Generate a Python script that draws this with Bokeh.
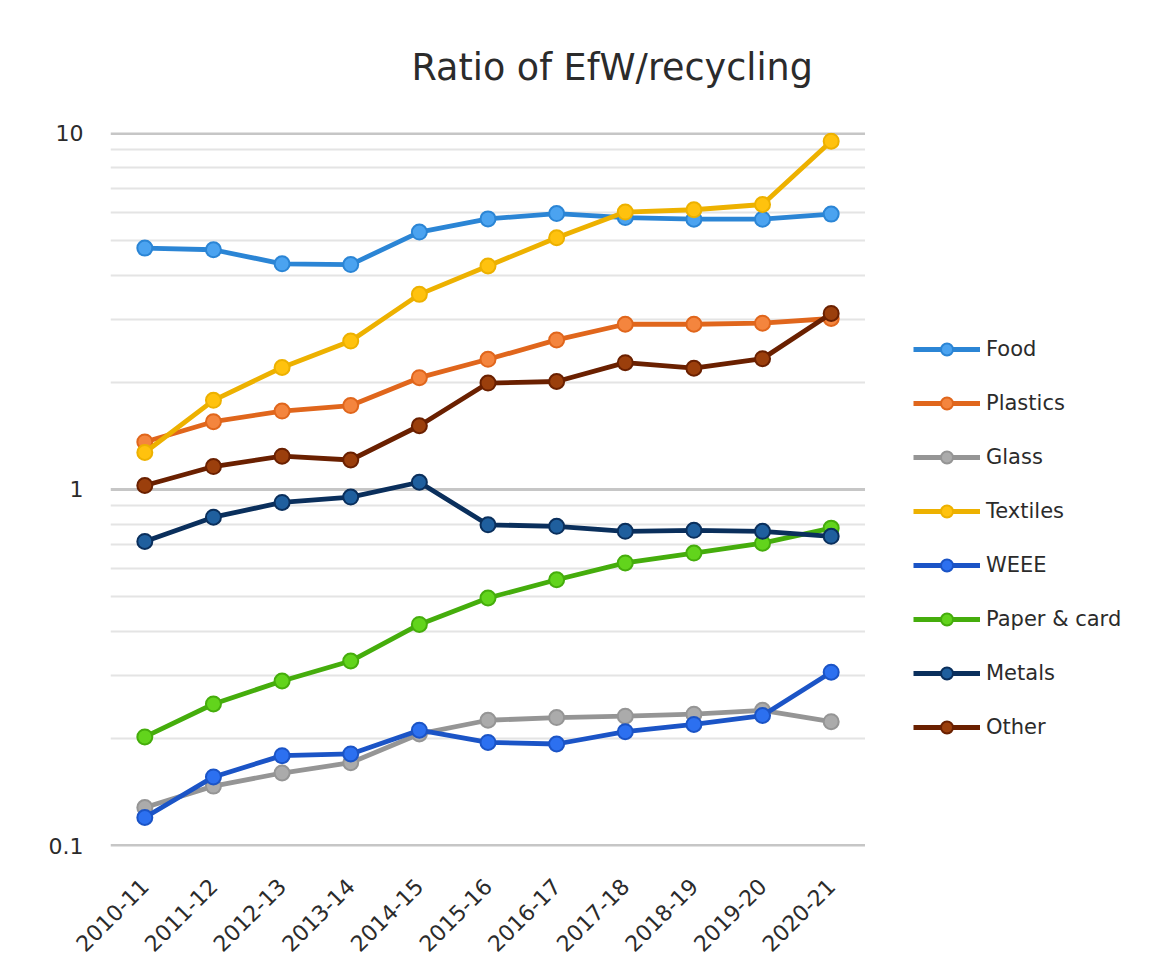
from bokeh.plotting import figure
from bokeh.models import (FactorRange, Range1d, FixedTicker, Grid, Legend, LegendItem,
                          CustomJSTickFormatter, Title)
from bokeh.layouts import row
from bokeh.embed import file_html
from bokeh.resources import INLINE
import math

years = ["2010-11", "2011-12", "2012-13", "2013-14", "2014-15", "2015-16",
         "2016-17", "2017-18", "2018-19", "2019-20", "2020-21"]

food = [4.76, 4.71, 4.30, 4.28, 5.28, 5.75, 5.95, 5.80, 5.74, 5.74, 5.93]
plastics = [1.36, 1.55, 1.66, 1.72, 2.06, 2.32, 2.63, 2.91, 2.91, 2.93, 3.02]
glass = [0.128, 0.147, 0.160, 0.171, 0.206, 0.225, 0.229, 0.231, 0.234, 0.240, 0.223]
textiles = [1.27, 1.78, 2.20, 2.61, 3.53, 4.24, 5.09, 6.01, 6.10, 6.31, 9.50]
weee = [0.120, 0.156, 0.179, 0.181, 0.211, 0.195, 0.193, 0.209, 0.219, 0.232, 0.307]
paper = [0.202, 0.250, 0.290, 0.330, 0.418, 0.496, 0.558, 0.622, 0.663, 0.707, 0.779]
metals = [0.715, 0.836, 0.920, 0.952, 1.048, 0.796, 0.788, 0.763, 0.768, 0.763, 0.739]
other = [1.026, 1.16, 1.24, 1.21, 1.51, 1.99, 2.01, 2.27, 2.19, 2.33, 3.12]

series_names = ["Food", "Plastics", "Glass", "Textiles", "WEEE", "Paper & card", "Metals", "Other"]
series_values = [food, plastics, glass, textiles, weee, paper, metals, other]
line_colors = ["#2B85D5", "#E0661C", "#959595", "#EDB100", "#1B54C6", "#45AD0C", "#0A2F5C", "#6A2000"]
fill_colors = ["#4BA3F0", "#F4853E", "#ABABAB", "#FFC20E", "#2C70F0", "#62D41C", "#1F5F9E", "#9B3F0C"]

major_ticks = [0.1, 1, 10]
minor_ticks = [0.2, 0.3, 0.4, 0.5, 0.6, 0.7, 0.8, 0.9, 2, 3, 4, 5, 6, 7, 8, 9]

FONT = "DejaVu Sans"
TEXT = "#2b2b2b"

# ---------------- main chart ----------------
p = figure(frame_width=755, frame_height=714, x_range=FactorRange(factors=years),
           y_range=Range1d(0.0995, 10.05), y_axis_type="log",
           output_backend="svg", toolbar_location=None,
           min_border_left=110, min_border_right=0, min_border_top=131,
           min_border_bottom=112)

p.outline_line_color = None
p.background_fill_color = "white"
p.border_fill_color = "white"

t = Title(text="Ratio of EfW/recycling", align="left", offset=301,
          text_font=FONT, text_font_size="36.5px", text_font_style="normal",
          text_color=TEXT, standoff=87)
p.add_layout(t, "above")

p.xgrid.visible = False
p.ygrid[0].ticker = FixedTicker(ticks=major_ticks)
p.ygrid[0].grid_line_color = "#C6C6C6"
p.ygrid[0].grid_line_width = 3
minor_grid = Grid(dimension=1, ticker=FixedTicker(ticks=minor_ticks),
                  grid_line_color="#E4E4E4", grid_line_width=2)
p.add_layout(minor_grid)

p.yaxis.ticker = FixedTicker(ticks=major_ticks, minor_ticks=[])
p.yaxis.formatter = CustomJSTickFormatter(code="return tick.toString()")
for ax in [p.xaxis[0], p.yaxis[0]]:
    ax.axis_line_color = None
    ax.major_tick_line_color = None
    ax.minor_tick_line_color = None
    ax.major_tick_out = 0
    ax.major_tick_in = 0
    ax.major_label_text_font = FONT
    ax.major_label_text_color = TEXT
p.yaxis.major_label_text_font_size = "22px"
p.yaxis.major_label_standoff = 27
p.xaxis.major_label_text_font_size = "22px"
p.xaxis.major_label_orientation = math.pi / 4
p.xaxis.major_label_standoff = 36

for vals, lc, fc in zip(series_values, line_colors, fill_colors):
    p.line(years, vals, line_color=lc, line_width=4.8, line_join="round")
    p.scatter(years, vals, size=15, fill_color=fc, line_color=lc, line_width=2)

# ---------------- legend panel ----------------
q = figure(width=293, height=960, x_range=FactorRange(factors=years),
           y_range=Range1d(100, 200), output_backend="svg", toolbar_location=None,
           x_axis_location=None, y_axis_location=None,
           min_border_left=0, min_border_right=0, min_border_top=0, min_border_bottom=0)
q.outline_line_color = None
q.grid.visible = False
q.background_fill_color = "white"
q.border_fill_color = "white"

items = []
for name, vals, lc, fc in zip(series_names, series_values, line_colors, fill_colors):
    r1 = q.line(years, vals, line_color=lc, line_width=4.8)
    r2 = q.scatter(years, vals, size=15, fill_color=fc, line_color=lc, line_width=2)
    items.append(LegendItem(label=name, renderers=[r1, r2]))

legend = Legend(items=items, location=(48, 103), orientation="vertical",
                label_text_font=FONT, label_text_font_size="21px",
                label_text_color=TEXT, glyph_width=67, glyph_height=30,
                label_height=30, spacing=24, label_standoff=6, padding=0,
                margin=0, border_line_color=None, background_fill_alpha=0)
q.add_layout(legend, "center")

layout = row(p, q)
open("out.html", "w").write(file_html(layout, INLINE))
